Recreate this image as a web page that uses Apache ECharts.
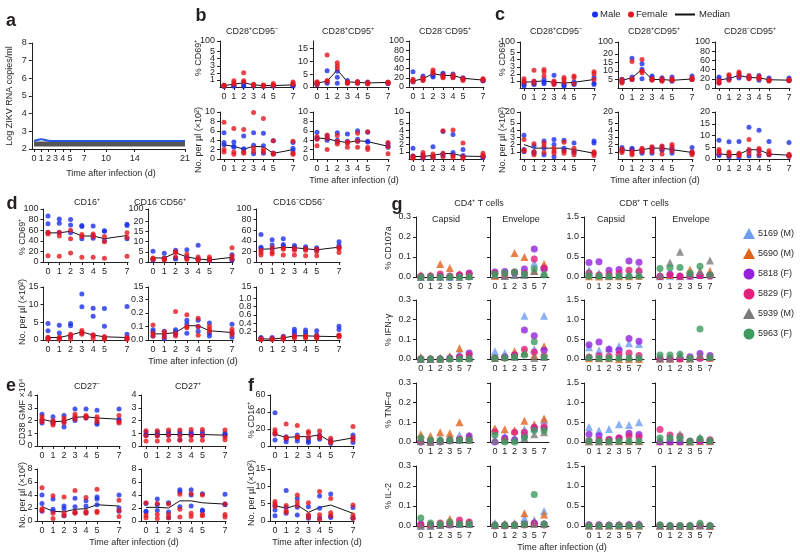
<!DOCTYPE html>
<html>
<head>
<meta charset="utf-8">
<script src="https://cdn.jsdelivr.net/npm/echarts@6/dist/echarts.min.js"></script>
<style>html,body{margin:0;background:#fff}#main{width:800px;height:560px}</style>
</head>
<body>
<div id="main"></div>
<script>
// ---- data ----
var aDays = [0, 1, 2, 3, 4, 5, 7, 10, 14, 21];
var aLod = [2.28, 2.28, 2.28, 2.28, 2.28, 2.28, 2.28, 2.28, 2.28, 2.28];
var aBlue = [2.45, 2.55, 2.47, 2.45, 2.45, 2.45, 2.45, 2.45, 2.45, 2.45];

var days = [0, 1, 2, 3, 4, 5, 7];

// b: CD4 T cells, % CD69+ (top) and counts (bottom); each day = 3 male / 3 female
var b1m = [[0.1,0.2,0.1],[0.2,0.3,0.1],[0.6,0.1,0.3],[0.2,0.1,0.3],[0.1,0.2,0.1],[0.1,0.2,0.2],[0.2,0.1,0.3]];
var b1f = [[0.3,0.1,0.2],[0.9,0.6,0.4],[2.0,0.9,0.7],[0.3,0.2,0.4],[0.2,0.3,0.1],[0.5,0.2,0.3],[0.7,0.4,0.5]];
var b1med = [0.2, 0.4, 0.6, 0.3, 0.2, 0.2, 0.3];
var b2m = [[1.5,1.0,1.2],[6.4,1.5,2.0],[6.2,3.8,1.5],[2.5,2.0,1.5],[2.0,1.5,1.8],[2.0,1.5,1.6],[1.5,1.8,1.4]];
var b2f = [[2.1,1.8,1.0],[12.5,2.5,2.2],[9.5,8.3,7.2],[2.0,1.5,1.8],[1.8,1.5,2.2],[1.5,1.8,1.2],[1.8,2.0,1.5]];
var b2med = [1.5, 2.3, 6.7, 2.0, 1.8, 1.6, 1.8];
var b3m = [[33,11,14],[24,20,15],[28,24,22],[30,28,24],[28,21,24],[20,18,17],[15,13,14]];
var b3f = [[17,13,12],[17,14,20],[37,33,30],[26,20,22],[26,20,23],[17,14,19],[17,14,18]];
var b3med = [13, 18, 29, 25, 25, 19, 15];
var b4m = [[5.6,3.5,3.0],[3.6,2.7,2.5],[4.9,2.2,2.0],[5.6,2.9,1.1],[5.5,2.8,1.2],[3.9,1.3,1.1],[3.5,2.3,1.8]];
var b4f = [[7.8,2.0,1.5],[6.5,1.5,1.0],[6.3,1.5,1.2],[9.9,2.3,1.6],[8.6,2.0,1.5],[3.9,1.2,1.0],[3.8,1.2,1.0]];
var b4med = [3.0, 2.7, 2.1, 2.7, 2.6, 1.2, 2.0];
var b5m = [[5.7,4.5,4.3],[4.9,4.3,4.0],[5.6,4.0,3.6],[5.3,3.8,3.5],[6.0,4.2,3.8],[5.7,3.8,3.6],[3.3,2.8,2.5]];
var b5f = [[4.8,2.8,4.2],[5.1,4.4,2.0],[5.0,3.8,3.2],[3.6,3.4,2.5],[5.5,3.8,2.5],[5.8,2.5,2.0],[3.5,2.6,1.1]];
var b5med = [4.5, 4.3, 3.8, 3.5, 3.9, 3.7, 2.7];
var b6m = [[1.5,0.4,0.3],[0.6,0.3,0.1],[1.7,0.3,0.2],[3.8,0.7,0.5],[3.4,0.9,0.6],[1.3,0.5,0.3],[0.4,0.3,0.2]];
var b6f = [[0.4,0.2,0.1],[0.9,0.5,0.2],[0.7,0.4,0.2],[3.9,0.8,0.3],[4.0,0.5,0.2],[2.2,0.3,0.1],[0.8,0.5,0.3]];
var b6med = [0.35, 0.35, 0.5, 0.75, 0.75, 0.4, 0.35];

// c: CD8 T cells
var c1m = [[0.7,0.5,0.3],[0.9,0.6,0.5],[1.2,0.8,0.6],[1.8,0.7,0.6],[0.6,0.4,0.3],[0.9,0.6,0.5],[1.5,0.7,0.5]];
var c1f = [[1.3,0.8,1.0],[2.5,1.0,0.7],[2.6,2.3,1.7],[1.0,0.8,0.5],[1.5,1.2,0.8],[1.7,1.5,0.6],[2.3,2.0,1.2]];
var c1med = [0.8, 0.9, 1.0, 0.8, 0.7, 0.8, 1.2];
var c2m = [[5.2,4.5,3.5],[17.5,6.5,5.0],[14.2,11,5.5],[7,6,5],[6,5,4.5],[6.5,4.5,4],[7,5.5,5]];
var c2f = [[4.0,3.0,5.0],[15.5,5.5,5.0],[16.8,10,9],[5.5,4.5,5],[5.5,4.5,4],[5.5,4.5,4.5],[6,5,5]];
var c2med = [4.5, 6.0, 11, 5, 5, 4.5, 5.3];
var c3m = [[24,20,11],[22,20,19],[28,22,26],[25,21,23],[27,17,22],[22,16,19],[22,16,18]];
var c3f = [[17,13,11],[29,27,17],[35,32,25],[27,22,20],[25,20,21],[18,15,17],[18,16,17]];
var c3med = [17, 21, 27, 23, 22, 18, 17];
var c4m = [[3.3,1.3,1.0],[1.8,1.0,0.8],[2.5,1.5,0.6],[2.7,2.0,0.3],[2.6,1.5,1.2],[2.2,1.1,0.9],[2.5,2.2,0.8]];
var c4f = [[2.7,1.2,1.1],[2.1,1.0,0.6],[2.2,1.8,0.9],[1.5,1.1,0.8],[2.3,1.1,0.8],[1.5,1.0,0.6],[1.0,0.8,0.5]];
var c4med = [2.0, 1.5, 1.5, 1.5, 1.5, 1.3, 0.8];
var c5m = [[1.6,1.3,1.2],[1.5,1.3,1.2],[1.2,1.0,0.8],[1.6,1.3,0.8],[1.7,1.3,1.2],[1.5,1.2,0.8],[1.6,0.9,0.8]];
var c5f = [[1.4,1.1,0.9],[1.1,0.8,0.6],[1.5,1.3,1.0],[1.7,1.4,1.0],[1.8,1.4,0.7],[2.0,1.7,1.1],[1.0,0.8,0.6]];
var c5med = [1.3, 1.1, 1.3, 1.5, 1.5, 1.3, 0.9];
var c6m = [[8.0,2.0,1.5],[7.3,1.5,1.0],[7.5,2.0,0.6],[13.5,3.5,1.3],[12.2,3.5,1.4],[7.4,2.0,1.8],[7.0,1.5,1.2]];
var c6f = [[4.0,3.3,2.5],[3.0,2.5,1.5],[2.5,1.8,1.5],[8.3,4.0,2.5],[4.5,3.8,2.0],[3.5,2.6,1.8],[2.0,1.6,1.2]];
var c6med = [2.2, 1.8, 2.0, 4.0, 3.9, 2.1, 1.6];

// d: NK cells
var d1m = [[87,72,55],[81,73,55],[80,70,55],[69,67,44],[68,50,45],[59,58,40],[71,69,44]];
var d1f = [[56,53,12],[56,49,11],[60,44,17],[52,48,9],[53,48,9],[48,38,7],[55,46,11]];
var d1med = [55, 55, 58, 49, 49, 44, 50];
var d2m = [[5.3,1.5,1.0],[4.3,2.0,1.5],[5.8,1.8,1.5],[6.0,2.5,2.0],[8.2,1.6,1.3],[1.2,0.9,0.7],[3.5,1.3,1.0]];
var d2f = [[2.0,1.3,1.5],[1.8,1.3,1.0],[5.0,4.7,2.5],[3.8,1.8,1.2],[2.5,1.2,0.8],[2.5,1.5,0.8],[7.0,3.0,1.5]];
var d2med = [2.0, 2.0, 4.5, 2.5, 1.5, 1.0, 2.3];
var d3m = [[52,28,26],[42,32,25],[44,33,30],[31,28,25],[29,26,24],[27,24,22],[38,31,28]];
var d3f = [[22,18,13],[27,19,15],[26,24,13],[26,22,13],[25,22,12],[24,20,12],[28,25,18]];
var d3med = [24, 25, 28, 27, 25, 23, 28];
var d4m = [[4.7,2.6,0.5],[4.2,2.0,0.5],[4.7,4.0,1.0],[13.0,9.4,2.0],[9.0,6.7,1.2],[8.9,3.9,0.7],[9.5,1.6,0.6]];
var d4f = [[0.8,0.6,0.2],[0.8,0.5,0.2],[1.6,1.2,0.3],[2.7,2.2,1.6],[1.5,1.3,0.4],[1.0,0.5,0.2],[0.8,0.4,0.2]];
var d4med = [0.7, 0.7, 1.4, 2.3, 1.4, 0.9, 0.7];
var d5m = [[0.075,0.06,0.03],[0.065,0.03,0.01],[0.075,0.06,0.04],[0.145,0.12,0.05],[0.145,0.1,0.065],[0.125,0.05,0.03],[0.115,0.05,0.02]];
var d5f = [[0.11,0.05,0.03],[0.06,0.045,0.02],[0.21,0.05,0.03],[0.185,0.1,0.09],[0.16,0.1,0.035],[0.1,0.08,0.065],[0.08,0.06,0.04]];
var d5med = [0.045, 0.045, 0.055, 0.105, 0.105, 0.068, 0.055];
var d6m = [[0.06,0.04,0.02],[0.06,0.03,0.02],[0.09,0.05,0.03],[0.26,0.2,0.15],[0.24,0.18,0.12],[0.22,0.12,0.08],[0.33,0.25,0.1]];
var d6f = [[0.03,0.01,0.01],[0.03,0.02,0.01],[0.07,0.04,0.02],[0.1,0.07,0.05],[0.09,0.07,0.05],[0.1,0.06,0.04],[0.12,0.1,0.07]];
var d6med = [0.03, 0.02, 0.05, 0.1, 0.1, 0.09, 0.08];

// e: B cells
var e1m = [[2.5,2.0,1.8],[2.3,1.9,1.8],[2.4,1.9,1.5],[2.9,2.2,2.0],[2.9,2.3,2.2],[2.8,1.8,1.7],[2.9,2.1,2.0]];
var e1f = [[2.3,2.1,1.9],[2.0,1.8,1.65],[2.2,2.0,1.8],[2.5,2.3,2.1],[2.4,2.3,2.2],[2.3,2.1,1.9],[2.4,1.9,1.8]];
var e1med = [2.1, 1.9, 1.95, 2.25, 2.3, 2.2, 2.1];
var e2m = [[1.1,0.9,0.85],[1.1,0.95,0.8],[1.1,0.9,0.85],[1.1,0.9,0.5],[1.1,0.95,0.85],[1.1,0.9,0.8],[1.0,0.9,0.85]];
var e2f = [[1.2,0.8,0.4],[1.2,0.8,0.4],[1.25,0.85,0.45],[1.25,0.8,0.45],[1.3,0.8,0.45],[1.3,0.85,0.45],[1.25,0.7,0.5]];
var e2med = [0.9, 0.9, 0.9, 0.9, 0.9, 0.9, 0.85];
var e3m = [[4.0,2.7,1.5],[3.4,1.8,1.5],[2.3,1.9,0.8],[3.5,2.2,1.3],[3.1,2.3,1.3],[3.7,3.4,2.5],[4.0,2.0,1.5]];
var e3f = [[5.1,1.9,1.6],[3.9,1.2,0.4],[3.7,1.2,0.8],[4.7,1.4,1.2],[3.6,1.5,1.2],[4.9,1.5,1.3],[3.2,1.6,0.7]];
var e3med = [2.2, 1.5, 1.4, 1.8, 1.9, 2.5, 2.3];
var e4m = [[2.7,1.5,1.4],[3.4,2.5,1.6],[2.8,1.4,0.5],[4.8,4.5,2.2],[4.8,4.0,2.3],[4.2,1.7,1.5],[4.1,2.6,2.5]];
var e4f = [[2.8,0.9,0.5],[2.7,1.0,0.4],[2.6,1.0,0.5],[4.1,1.8,0.6],[4.2,1.2,0.7],[4.0,1.0,0.8],[2.6,1.0,0.6]];
var e4med = [2.1, 2.1, 2.0, 3.1, 3.1, 2.8, 2.6];

// f: monocytes
var f1m = [[39,14,7],[11,8,5],[13,9,6],[9,4,6],[13,10.6,8],[7,5,3],[13,9.4,4]];
var f1f = [[19,16,14],[26,10,9],[24,11,10],[17,15,10],[17.6,12,10],[9,5,4],[23,7,10]];
var f1med = [14, 10, 11, 11, 13, 5, 9.5];
var f2m = [[4.5,3.2,1.5],[8.8,4.0,2.2],[6.5,4.0,1.7],[4.1,1.5,0.8],[7.2,3.7,0.9],[7.8,1.4,1.0],[3.9,1.0,0.8]];
var f2f = [[5.6,5.0,4.2],[4.5,3.0,2.5],[7.5,5.5,4.5],[5.3,1.8,1.0],[8.5,1.8,0.5],[6.5,2.4,1.5],[4.6,1.7,0.8]];
var f2med = [4.4, 3.7, 4.6, 2.5, 3.9, 4.6, 2.2];

// g: antigen-specific responses; rows follow animal order
var gDays = ['0', '1', '2', '3', '5', '7'];
var animals = ['5169 (M)', '5690 (M)', '5818 (F)', '5829 (F)', '5939 (M)', '5963 (F)'];
var gCd107aCd4Cap = [[0,0,0.005,0,0.01,0.005],[0.01,0.01,0.065,0.045,0.015,0.01],[0,0,0.005,0,0.01,0.02],[0.005,0.005,0.015,0.005,0.01,0.015],[0,0,0,0.005,0,0.005],[0,0,0,0,0,0]];
var gCd107aCd4Env = [[0.01,0.005,0.01,0.02,0.07,0.05],[0.005,0.01,0.12,0.10,0.03,0.065],[0.025,0.028,0.02,0.04,0.14,0.04],[0.02,0.01,0.025,0.02,0.09,0.045],[0.01,0.005,0.01,0.01,0.03,0.02],[0.015,0.02,0.025,0.015,0.04,0.01]];
var gCd107aCd8Cap = [[0.17,0.1,0.05,0.08,0.1,0.2],[0.02,0.01,0.02,0.02,0.02,0.03],[0.36,0.38,0.17,0.19,0.40,0.37],[0.1,0.05,0.07,0.1,0.17,0.15],[0.12,0.05,0.04,0.05,0.05,0.08],[0.02,0.02,0.01,0.02,0.02,0.02]];
var gCd107aCd8Env = [[0.02,0.03,0.02,0.03,0.05,0.08],[0.03,0.05,0.03,0.18,0.12,0.15],[0.02,0.07,0.02,0.03,0.04,0.04],[0.01,0.05,0.02,0.02,0.03,0.02],[0.05,0.36,0.63,0.08,0.15,0.41],[0.21,0.23,0.24,0.1,0.27,0.05]];
var gIfnCd4Cap = [[0,0,0.005,0.01,0.03,0.02],[0.01,0,0.005,0.015,0.055,0.01],[0,0,0,0.005,0.01,0.03],[0,0,0,0,0.01,0.02],[0,0,0,0.005,0.005,0.005],[0,0,0,0,0,0]];
var gIfnCd4Env = [[0.04,0.03,0.02,0.22,0.05,0.22],[0.005,0.01,0.04,0.04,0.02,0.065],[0.005,0.01,0.02,0.147,0.118,0.045],[0.005,0.005,0.02,0.05,0.035,0.015],[0.005,0.01,0.01,0.03,0.005,0.01],[0.005,0.005,0.01,0.02,0.088,0.01]];
var gIfnCd8Cap = [[0.3,0.22,0.27,0.33,0.4,0.38],[0.02,0.02,0.02,0,0,0],[0.36,0.43,0.25,0.22,0.52,0.45],[0.05,0.08,0.07,0.12,0.15,0.09],[0.05,0.03,0.04,0.05,0.05,0.05],[0.03,0.02,0.02,0.02,0.02,0.02]];
var gIfnCd8Env = [[0.02,0.02,0.08,0.02,0.05,0.05],[0.01,0.01,0.02,0.01,0.08,0.03],[0.01,0.01,0.02,0.06,0.14,0.09],[0,0,0,0.02,0.01,0.02],[0.02,0.02,0.1,0.02,0.1,0.06],[0.1,0.1,0.12,0.02,0.76,0.03]];
var gTnfCd4Cap = [[0.005,0.005,0.015,0.02,0.035,0.02],[0.04,0.03,0.05,0.044,0.1,0.033],[0,0,0,0.005,0.01,0.03],[0,0,0.005,0.01,0.015,0.01],[0.005,0,0.005,0.01,0.01,0.01],[0.02,0.01,0.01,0.01,0.01,0.01]];
var gTnfCd4Env = [[0.01,0.03,0.025,0.065,0.07,0.11],[0.07,0.065,0.06,0.108,0.09,0.12],[0,0.02,0.01,0.03,0.07,0.07],[0.052,0.01,0.05,0.049,0.075,0.078],[0.01,0.01,0.01,0.02,0.04,0.05],[0.035,0,0,0.023,0.06,0.057]];
var gTnfCd8Cap = [[0.38,0.29,0.33,0.45,0.43,0.5],[0.02,0.02,0.02,0.02,0.02,0.02],[0.2,0.16,0.05,0.1,0.22,0.19],[0.03,0.05,0.07,0.1,0.15,0.12],[0.02,0.02,0.02,0.03,0.03,0.03],[0.03,0.02,0.02,0.02,0.02,0.02]];
var gTnfCd8Env = [[0.03,0.03,0.03,0.02,0.03,0.03],[0.02,0.02,0.02,0.01,0.02,0.02],[0,0,0,0.02,0.02,0.03],[0.32,0.18,0.15,0.02,0.05,0.06],[0.05,0.14,0.2,0.02,0.12,0.04],[0.1,0.1,0.08,0.02,0.08,0.03]];
var gIl2Cd4Cap = [[0.005,0.005,0.005,0.01,0.01,0.01],[0.01,0.01,0.01,0.035,0.02,0.02],[0.01,0.005,0.005,0.005,0.01,0.01],[0.005,0.005,0.015,0.01,0.03,0.02],[0,0,0.005,0.01,0.01,0.01],[0.04,0.015,0.01,0.02,0.01,0.01]];
var gIl2Cd4Env = [[0.015,0.01,0.015,0.04,0.03,0.075],[0.005,0.01,0.01,0.064,0.02,0.058],[0.005,0.005,0.005,0.01,0.015,0.01],[0,0,0.005,0.005,0.01,0.005],[0.005,0.005,0.005,0.01,0.01,0.01],[0.005,0.005,0.005,0.01,0.157,0.01]];
var gIl2Cd8Cap = [[0.02,0.02,0.03,0.05,0.04,0.06],[0.01,0.01,0.01,0.01,0.01,0.01],[0.03,0.03,0.02,0.02,0.03,0.03],[0.02,0.02,0.02,0.02,0.02,0.02],[0.01,0.01,0.01,0.01,0.01,0.01],[0.01,0.01,0.01,0.01,0.01,0.01]];
var gIl2Cd8Env = [[0.01,0.01,0.01,0.01,0.01,0.01],[0.01,0,0,0,0.02,0],[0.01,0,0,0,0.01,0],[0.01,0,0,0,0.01,0],[0.01,0,0.01,0,0.02,0.01],[0.03,0.01,0.01,0.01,0.07,0.01]];

// ---- styles ----
var FONT = '"Liberation Sans", Arial, sans-serif';
var INK = '#231f20';
var BLUE = '#1b2fe8';
var RED = '#e3171e';
var gColors = ['#6f9ef0', '#e2621b', '#9422dd', '#e1217c', '#7a7a7a', '#3f9a5f'];
var gSymbols = ['triangle', 'triangle', 'circle', 'circle', 'triangle', 'circle'];

var option = { animation: false, grid: [], xAxis: [], yAxis: [], series: [], graphic: [] };

function txt(x, y, s, o) {
    o = o || {};
    option.graphic.push({
        type: 'text', x: x, y: y, rotation: o.rot || 0, silent: true,
        style: {
            text: s, fill: INK, fontFamily: FONT, fontSize: o.size || 9,
            fontWeight: o.bold ? 'bold' : 'normal',
            align: o.align || 'center', verticalAlign: 'middle'
        }
    });
}

function pts(arr) {
    var out = [];
    arr.forEach(function (vals, i) {
        vals.forEach(function (v) { out.push([days[i], v]); });
    });
    return out;
}

var axLine = { show: true, onZero: false, lineStyle: { color: INK, width: 1 } };
var lbl = { color: INK, fontFamily: FONT, fontSize: 9 };

// one small dot plot with male / female dots and a median line
function dotPanel(p) {
    var s = (p.x7 - p.x0) / 7;
    var gi = option.grid.length;
    option.grid.push({ left: p.x0 - 0.4 * s, top: p.top, width: 7.5 * s, height: p.bot - p.top });
    option.xAxis.push({
        type: 'value', gridIndex: gi, min: -0.4, max: 7.1,
        axisLine: axLine,
        axisTick: { show: true, customValues: days, length: 3, lineStyle: { color: INK } },
        axisLabel: Object.assign({ customValues: days, margin: 5 }, lbl),
        splitLine: { show: false }
    });
    option.yAxis.push({
        type: 'value', gridIndex: gi, min: 0, max: p.max,
        axisLine: axLine,
        axisTick: { show: true, customValues: p.ticks, length: 3, lineStyle: { color: INK } },
        axisLabel: Object.assign({
            customValues: p.ticks, margin: 5,
            formatter: function (v) {
                if (p.topLabel && Math.abs(v - p.max) < 1e-9) return p.topLabel;
                return p.dec ? v.toFixed(p.dec) : String(v);
            }
        }, lbl),
        splitLine: { show: false }
    });
    option.series.push({
        type: 'line', xAxisIndex: gi, yAxisIndex: gi, symbol: 'none', z: 1,
        lineStyle: { color: '#111', width: 1 },
        data: days.map(function (d, i) { return [d, p.med[i]]; })
    });
    option.series.push({ type: 'scatter', xAxisIndex: gi, yAxisIndex: gi, symbolSize: 5, itemStyle: { color: BLUE }, data: pts(p.male) });
    option.series.push({ type: 'scatter', xAxisIndex: gi, yAxisIndex: gi, symbolSize: 5, itemStyle: { color: RED }, data: pts(p.female) });
}

var lin100 = [0, 20, 40, 60, 80, 100];
var brk5 = [0, 1, 2, 3, 4, 5, 6.5];

// b
dotPanel({ x0: 224, x7: 293, top: 41, bot: 87, max: 6.5, ticks: brk5, topLabel: '100', male: b1m, female: b1f, med: b1med });
dotPanel({ x0: 317, x7: 388, top: 41, bot: 87, max: 18, ticks: [0, 5, 10, 15, 18], topLabel: '100', male: b2m, female: b2f, med: b2med });
dotPanel({ x0: 413, x7: 483, top: 41, bot: 87, max: 100, ticks: lin100, male: b3m, female: b3f, med: b3med });
dotPanel({ x0: 224, x7: 293, top: 112, bot: 159, max: 10, ticks: [0, 2, 4, 6, 8, 10], male: b4m, female: b4f, med: b4med });
dotPanel({ x0: 317, x7: 388, top: 112, bot: 159, max: 10, ticks: [0, 2, 4, 6, 8, 10], male: b5m, female: b5f, med: b5med });
dotPanel({ x0: 413, x7: 483, top: 112, bot: 159, max: 6.5, ticks: brk5, topLabel: '10', male: b6m, female: b6f, med: b6med });
// c
dotPanel({ x0: 524, x7: 594, top: 42, bot: 88, max: 6.5, ticks: brk5, topLabel: '100', male: c1m, female: c1f, med: c1med });
dotPanel({ x0: 622, x7: 692, top: 42, bot: 88, max: 27, ticks: [0, 5, 10, 15, 20, 27], topLabel: '100', male: c2m, female: c2f, med: c2med });
dotPanel({ x0: 719, x7: 789, top: 42, bot: 88, max: 100, ticks: lin100, male: c3m, female: c3f, med: c3med });
dotPanel({ x0: 524, x7: 594, top: 112, bot: 159, max: 6.5, ticks: brk5, topLabel: '20', male: c4m, female: c4f, med: c4med });
dotPanel({ x0: 622, x7: 692, top: 112, bot: 159, max: 6.5, ticks: brk5, topLabel: '20', male: c5m, female: c5f, med: c5med });
dotPanel({ x0: 719, x7: 789, top: 112, bot: 159, max: 20, ticks: [0, 5, 10, 15, 20], male: c6m, female: c6f, med: c6med });
// d
dotPanel({ x0: 48, x7: 127, top: 209, bot: 262, max: 100, ticks: lin100, male: d1m, female: d1f, med: d1med });
dotPanel({ x0: 153, x7: 232, top: 209, bot: 262, max: 26, ticks: [0, 5, 10, 15, 20, 26], topLabel: '100', male: d2m, female: d2f, med: d2med });
dotPanel({ x0: 261, x7: 339, top: 209, bot: 262, max: 100, ticks: lin100, male: d3m, female: d3f, med: d3med });
dotPanel({ x0: 48, x7: 127, top: 287, bot: 340, max: 15, ticks: [0, 5, 10, 15], male: d4m, female: d4f, med: d4med });
dotPanel({ x0: 153, x7: 232, top: 287, bot: 340, max: 0.39, ticks: [0, 0.1, 0.2, 0.3, 0.39], topLabel: '15', dec: 1, male: d5m, female: d5f, med: d5med });
dotPanel({ x0: 261, x7: 339, top: 287, bot: 340, max: 1.27, ticks: [0, 0.2, 0.4, 0.6, 0.8, 1.0, 1.27], topLabel: '15', dec: 1, male: d6m, female: d6f, med: d6med });
// e
dotPanel({ x0: 42, x7: 119, top: 395, bot: 446, max: 4, ticks: [0, 1, 2, 3, 4], male: e1m, female: e1f, med: e1med });
dotPanel({ x0: 146, x7: 225, top: 395, bot: 446, max: 4, ticks: [0, 1, 2, 3, 4], male: e2m, female: e2f, med: e2med });
dotPanel({ x0: 42, x7: 119, top: 469, bot: 521, max: 8, ticks: [0, 2, 4, 6, 8], male: e3m, female: e3f, med: e3med });
dotPanel({ x0: 146, x7: 225, top: 469, bot: 521, max: 8, ticks: [0, 2, 4, 6, 8], male: e4m, female: e4f, med: e4med });
// f
dotPanel({ x0: 275, x7: 353, top: 395, bot: 446, max: 60, ticks: [0, 20, 40, 60], male: f1m, female: f1f, med: f1med });
dotPanel({ x0: 275, x7: 353, top: 469, bot: 521, max: 15, ticks: [0, 5, 10, 15], male: f2m, female: f2f, med: f2med });

// a: viral load
(function () {
    var gi = option.grid.length;
    var s = 151 / 21;
    option.grid.push({ left: 34 - 0.3 * s, top: 43, width: 21.3 * s, height: 106 });
    option.xAxis.push({
        type: 'value', gridIndex: gi, min: -0.3, max: 21,
        axisLine: axLine,
        axisTick: { show: true, customValues: aDays, length: 3, lineStyle: { color: INK } },
        axisLabel: Object.assign({ customValues: aDays, margin: 5 }, lbl),
        splitLine: { show: false }
    });
    option.yAxis.push({
        type: 'value', gridIndex: gi, min: 2, max: 8, interval: 1,
        axisLine: axLine, axisTick: { show: true, length: 3, lineStyle: { color: INK } },
        axisLabel: Object.assign({ margin: 5 }, lbl), splitLine: { show: false }
    });
    option.series.push({
        type: 'line', xAxisIndex: gi, yAxisIndex: gi, symbol: 'none',
        lineStyle: { color: '#555', width: 5 },
        data: aDays.map(function (d, i) { return [d, aLod[i]]; })
    });
    option.series.push({
        type: 'line', xAxisIndex: gi, yAxisIndex: gi, symbol: 'none', smooth: 0.3,
        lineStyle: { color: '#2456e0', width: 2 },
        data: aDays.map(function (d, i) { return [d, aBlue[i]]; })
    });
})();

// g panels
var gCols = [
    { left: 416, width: 58, max: 0.3, interval: 0.1, labels: true },
    { left: 490, width: 59, max: 0.3, interval: 0.1, labels: false },
    { left: 584, width: 60, max: 1.5, interval: 0.5, labels: true },
    { left: 655, width: 60, max: 1.5, interval: 0.5, labels: false }
];
var gRows = [{ top: 217, height: 60 }, { top: 300, height: 59 }, { top: 383, height: 59 }, { top: 466, height: 60 }];
var gSets = [
    [gCd107aCd4Cap, gCd107aCd4Env, gCd107aCd8Cap, gCd107aCd8Env],
    [gIfnCd4Cap, gIfnCd4Env, gIfnCd8Cap, gIfnCd8Env],
    [gTnfCd4Cap, gTnfCd4Env, gTnfCd8Cap, gTnfCd8Env],
    [gIl2Cd4Cap, gIl2Cd4Env, gIl2Cd8Cap, gIl2Cd8Env]
];
gRows.forEach(function (r, ri) {
    gCols.forEach(function (c, ci) {
        var gi = option.grid.length;
        option.grid.push({ left: c.left, top: r.top, width: c.width, height: r.height });
        option.xAxis.push({
            type: 'category', gridIndex: gi, data: gDays, boundaryGap: true,
            axisLine: { show: true, lineStyle: { color: INK } }, axisTick: { show: false },
            axisLabel: Object.assign({ interval: 0, margin: 5 }, lbl)
        });
        option.yAxis.push({
            type: 'value', gridIndex: gi, min: 0, max: c.max, interval: c.interval,
            axisLine: axLine, axisTick: { show: true, length: 3, lineStyle: { color: INK } },
            axisLabel: Object.assign({ show: c.labels, margin: 5, formatter: function (v) { return v.toFixed(1); } }, lbl),
            splitLine: { show: false }
        });
        gSets[ri][ci].forEach(function (vals, ai) {
            option.series.push({
                type: 'scatter', xAxisIndex: gi, yAxisIndex: gi,
                symbol: gSymbols[ai], symbolSize: gSymbols[ai] === 'triangle' ? 8 : 7,
                itemStyle: { color: gColors[ai] },
                data: vals.map(function (v, di) { return [di, v]; })
            });
        });
    });
});

// ---- text ----
txt(11, 21, 'a', { size: 18, bold: true });
txt(201, 16, 'b', { size: 18, bold: true });
txt(500, 15, 'c', { size: 18, bold: true });
txt(12, 204, 'd', { size: 18, bold: true });
txt(11, 386, 'e', { size: 18, bold: true });
txt(251, 386, 'f', { size: 18, bold: true });
txt(397, 205, 'g', { size: 18, bold: true });

var R = Math.PI / 2;
txt(10, 96, 'Log ZIKV RNA copies/ml', { rot: R });
txt(199, 58, '% CD69\u207A', { rot: R });
txt(199, 140, 'No. per \u00B5l (\u00D710\u00B2)', { rot: R });
txt(503, 58, '% CD69\u207A', { rot: R });
txt(503, 140, 'No. per \u00B5l (\u00D710\u00B2)', { rot: R });
txt(23, 237, '% CD69\u207A', { rot: R });
txt(23, 312, 'No. per \u00B5l (\u00D710\u00B2)', { rot: R });
txt(23, 412, 'CD38 GMF \u00D710\u2074', { rot: R });
txt(23, 495, 'No. per \u00B5l (\u00D710\u00B2)', { rot: R });
txt(252, 420, '% CD16\u207A', { rot: R });
txt(252, 493, 'No. per \u00B5l (\u00D710\u00B2)', { rot: R });
txt(389, 248, '% CD107a', { rot: R });
txt(389, 330, '% IFN-\u03B3', { rot: R });
txt(389, 410, '% TNF-\u03B1', { rot: R });
txt(389, 496, '% IL-2', { rot: R });

txt(252, 32, 'CD28\u207ACD95\u207B');
txt(348, 32, 'CD28\u207ACD95\u207A');
txt(445, 32, 'CD28\u207BCD95\u207A');
txt(556, 32, 'CD28\u207ACD95\u207B');
txt(654, 32, 'CD28\u207ACD95\u207A');
txt(750, 32, 'CD28\u207BCD95\u207A');
txt(87, 203, 'CD16\u207A');
txt(160, 203, 'CD16\u207BCD56\u207A');
txt(299, 203, 'CD16\u207BCD56\u207B');
txt(87, 387, 'CD27\u207B');
txt(188, 387, 'CD27\u207A');
txt(479, 204, 'CD4\u207A T cells');
txt(644, 204, 'CD8\u207A T cells');
txt(446, 220, 'Capsid');
txt(521, 220, 'Envelope');
txt(611, 220, 'Capsid');
txt(691, 220, 'Envelope');

var tai = 'Time after infection (d)';
txt(111, 174, tai);
txt(354, 181, tai);
txt(655, 181, tai);
txt(193, 362, tai);
txt(134, 543, tai);
txt(317, 543, tai);
txt(562, 548, tai);

// top legend
option.graphic.push({ type: 'circle', shape: { cx: 595, cy: 14.5, r: 3 }, style: { fill: BLUE } });
txt(600, 14.5, 'Male', { align: 'left', size: 9.5 });
option.graphic.push({ type: 'circle', shape: { cx: 631, cy: 14.5, r: 3 }, style: { fill: RED } });
txt(636, 14.5, 'Female', { align: 'left', size: 9.5 });
option.graphic.push({ type: 'line', shape: { x1: 675, y1: 14.5, x2: 695, y2: 14.5 }, style: { stroke: '#111', lineWidth: 2 } });
txt(699, 14.5, 'Median', { align: 'left', size: 9.5 });

// g legend
animals.forEach(function (name, i) {
    var y = 234 + i * 20, x = 749;
    if (gSymbols[i] === 'triangle') {
        option.graphic.push({ type: 'polygon', shape: { points: [[x, y - 6], [x - 6, y + 5], [x + 6, y + 5]] }, style: { fill: gColors[i] } });
    } else {
        option.graphic.push({ type: 'circle', shape: { cx: x, cy: y, r: 5.5 }, style: { fill: gColors[i] } });
    }
    txt(758, y, name, { align: 'left', size: 9 });
});

var chart = echarts.init(document.getElementById('main'), null, { renderer: 'canvas' });
chart.setOption(option);
</script>
</body>
</html>
